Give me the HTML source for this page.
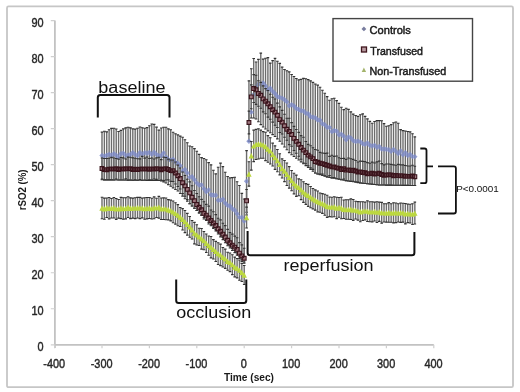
<!DOCTYPE html>
<html><head><meta charset="utf-8"><style>
html,body{margin:0;padding:0;background:#fff;}
svg{display:block;filter:blur(0.35px);}
text{filter:opacity(1);}
</style></head><body>
<svg width="520" height="392" viewBox="0 0 520 392">
<rect width="520" height="392" fill="#fff"/>
<rect x="7" y="6.4" width="506" height="380.8" rx="1.5" fill="none" stroke="#c6c6c6" stroke-width="1.8"/>
<path d="M54.9 20.5V348" stroke="#c2c2c2" stroke-width="1.8" fill="none"/>
<path d="M50.8 344.80H54.9M50.8 308.77H54.9M50.8 272.74H54.9M50.8 236.71H54.9M50.8 200.68H54.9M50.8 164.65H54.9M50.8 128.62H54.9M50.8 92.59H54.9M50.8 56.56H54.9M50.8 20.53H54.9" stroke="#cfcfcf" stroke-width="1.2" fill="none"/>
<path d="M54.9 344.8H433.8" stroke="#c2c2c2" stroke-width="1.8" fill="none"/>
<path d="M54.60 344.8V348.3M102.00 344.8V348.3M149.40 344.8V348.3M196.80 344.8V348.3M244.20 344.8V348.3M291.60 344.8V348.3M339.00 344.8V348.3M386.40 344.8V348.3M433.80 344.8V348.3" stroke="#cfcfcf" stroke-width="1.2" fill="none"/>
<text x="37.55" y="350.89" font-size="12" textLength="6.07" lengthAdjust="spacingAndGlyphs" fill="#262626" font-family="Liberation Sans, sans-serif" stroke="#262626" stroke-width="0.4">0</text>
<text x="31.48" y="314.86" font-size="12" textLength="12.15" lengthAdjust="spacingAndGlyphs" fill="#262626" font-family="Liberation Sans, sans-serif" stroke="#262626" stroke-width="0.4">10</text>
<text x="31.48" y="278.83" font-size="12" textLength="12.15" lengthAdjust="spacingAndGlyphs" fill="#262626" font-family="Liberation Sans, sans-serif" stroke="#262626" stroke-width="0.4">20</text>
<text x="31.48" y="242.80" font-size="12" textLength="12.15" lengthAdjust="spacingAndGlyphs" fill="#262626" font-family="Liberation Sans, sans-serif" stroke="#262626" stroke-width="0.4">30</text>
<text x="31.48" y="206.77" font-size="12" textLength="12.15" lengthAdjust="spacingAndGlyphs" fill="#262626" font-family="Liberation Sans, sans-serif" stroke="#262626" stroke-width="0.4">40</text>
<text x="31.48" y="170.74" font-size="12" textLength="12.15" lengthAdjust="spacingAndGlyphs" fill="#262626" font-family="Liberation Sans, sans-serif" stroke="#262626" stroke-width="0.4">50</text>
<text x="31.48" y="134.71" font-size="12" textLength="12.15" lengthAdjust="spacingAndGlyphs" fill="#262626" font-family="Liberation Sans, sans-serif" stroke="#262626" stroke-width="0.4">60</text>
<text x="31.48" y="98.68" font-size="12" textLength="12.15" lengthAdjust="spacingAndGlyphs" fill="#262626" font-family="Liberation Sans, sans-serif" stroke="#262626" stroke-width="0.4">70</text>
<text x="31.48" y="62.65" font-size="12" textLength="12.15" lengthAdjust="spacingAndGlyphs" fill="#262626" font-family="Liberation Sans, sans-serif" stroke="#262626" stroke-width="0.4">80</text>
<text x="31.48" y="26.62" font-size="12" textLength="12.15" lengthAdjust="spacingAndGlyphs" fill="#262626" font-family="Liberation Sans, sans-serif" stroke="#262626" stroke-width="0.4">90</text>
<text x="43.34" y="368.00" font-size="12" textLength="21.86" lengthAdjust="spacingAndGlyphs" fill="#262626" font-family="Liberation Sans, sans-serif" stroke="#262626" stroke-width="0.4">-400</text>
<text x="90.74" y="368.00" font-size="12" textLength="21.86" lengthAdjust="spacingAndGlyphs" fill="#262626" font-family="Liberation Sans, sans-serif" stroke="#262626" stroke-width="0.4">-300</text>
<text x="138.14" y="368.00" font-size="12" textLength="21.86" lengthAdjust="spacingAndGlyphs" fill="#262626" font-family="Liberation Sans, sans-serif" stroke="#262626" stroke-width="0.4">-200</text>
<text x="185.54" y="368.00" font-size="12" textLength="21.86" lengthAdjust="spacingAndGlyphs" fill="#262626" font-family="Liberation Sans, sans-serif" stroke="#262626" stroke-width="0.4">-100</text>
<text x="240.86" y="368.00" font-size="12" textLength="6.07" lengthAdjust="spacingAndGlyphs" fill="#262626" font-family="Liberation Sans, sans-serif" stroke="#262626" stroke-width="0.4">0</text>
<text x="281.99" y="368.00" font-size="12" textLength="18.22" lengthAdjust="spacingAndGlyphs" fill="#262626" font-family="Liberation Sans, sans-serif" stroke="#262626" stroke-width="0.4">100</text>
<text x="329.53" y="368.00" font-size="12" textLength="18.22" lengthAdjust="spacingAndGlyphs" fill="#262626" font-family="Liberation Sans, sans-serif" stroke="#262626" stroke-width="0.4">200</text>
<text x="377.00" y="368.00" font-size="12" textLength="18.22" lengthAdjust="spacingAndGlyphs" fill="#262626" font-family="Liberation Sans, sans-serif" stroke="#262626" stroke-width="0.4">300</text>
<text x="424.48" y="368.00" font-size="12" textLength="18.22" lengthAdjust="spacingAndGlyphs" fill="#262626" font-family="Liberation Sans, sans-serif" stroke="#262626" stroke-width="0.4">400</text>
<text x="223.89" y="380.50" font-size="10.4" textLength="50.12" lengthAdjust="spacingAndGlyphs" fill="#1a1a1a" font-weight="bold" font-family="Liberation Sans, sans-serif">Time (sec)</text>
<text transform="translate(25.9 210.34) rotate(-90)" font-size="10.4" textLength="40.92" lengthAdjust="spacingAndGlyphs" font-weight="bold" fill="#1a1a1a" font-family="Liberation Sans, sans-serif">rSO2 (%)</text>
<path d="M102.00 132.17V179.81M104.37 131.20V179.84M106.74 131.83V179.87M109.11 129.72V179.90M111.48 128.41V179.92M113.85 128.23V179.95M116.22 129.03V179.98M118.59 131.48V180.01M120.96 130.40V180.04M123.33 128.89V180.06M125.70 127.84V180.09M128.07 127.32V180.12M130.44 127.87V180.15M132.81 128.91V180.18M135.18 129.11V180.21M137.55 128.22V180.23M139.92 127.04V180.26M142.29 127.76V180.29M144.66 128.28V180.32M147.03 127.64V180.35M149.40 125.71V180.37M151.77 123.99V180.40M154.14 124.39V180.43M156.51 127.15V180.46M158.88 130.15V180.49M161.25 128.05V180.97M163.62 127.21V181.88M165.99 127.28V183.07M168.36 128.87V184.67M170.73 129.78V186.26M173.10 132.19V187.86M175.47 133.74V189.46M177.84 134.92V191.06M180.21 136.10V193.51M182.58 137.29V196.11M184.95 139.77V198.71M187.32 142.81V201.31M189.69 146.05V203.74M192.06 146.76V206.01M194.43 148.61V208.28M196.80 151.27V210.55M199.17 154.33V212.84M201.54 157.62V215.15M203.91 158.53V219.07M206.28 159.79V220.45M208.65 162.61V223.98M211.02 164.85V225.77M213.39 170.22V228.57M215.76 173.90V230.96M218.13 167.20V234.07M220.50 163.09V236.92M222.87 166.61V239.58M225.24 172.22V242.71M227.61 176.49V245.80M229.98 177.92V247.95M232.35 177.63V250.56M234.72 177.23V252.67M237.09 181.75V255.16M239.46 185.47V258.33M241.83 193.38V261.38M244.20 199.00V263.23M246.57 150.61V215.00M248.94 80.87V141.21M251.31 68.71V118.00M253.68 58.52V118.00M256.05 61.94V119.00M258.42 59.33V121.79M260.79 53.08V124.58M263.16 59.16V126.97M265.53 58.21V128.94M267.90 57.65V130.92M270.27 63.12V132.78M272.64 60.60V134.65M275.01 58.41V136.51M277.38 61.32V138.88M279.75 63.38V141.25M282.12 67.14V144.07M284.49 69.50V146.93M286.86 70.75V149.80M289.23 71.92V152.67M291.60 74.45V154.78M293.97 76.53V156.54M296.34 78.45V158.29M298.71 79.86V160.05M301.08 79.36V161.85M303.45 78.38V163.72M305.82 78.71V165.59M308.19 79.66V167.46M310.56 80.85V169.33M312.93 82.38V171.19M315.30 83.94V173.06M317.67 85.11V173.93M320.04 87.30V174.66M322.41 90.29V175.39M324.78 93.30V176.11M327.15 96.66V176.84M329.52 100.28V177.40M331.89 98.70V177.86M334.26 98.26V178.32M336.63 100.63V178.78M339.00 103.42V179.24M341.37 107.22V179.70M343.74 109.61V180.16M346.11 108.18V180.59M348.48 109.36V181.00M350.85 111.85V181.41M353.22 114.11V181.82M355.59 115.55V182.24M357.96 116.39V182.65M360.33 114.81V183.03M362.70 113.92V183.27M365.07 116.41V183.51M367.44 118.91V183.74M369.81 121.36V183.98M372.18 123.29V184.22M374.55 121.53V184.45M376.92 120.60V184.69M379.29 120.60V184.93M381.66 120.79V185.02M384.03 123.60V185.06M386.40 126.28V185.09M388.77 125.73V185.13M391.14 124.64V185.16M393.51 122.71V185.19M395.88 121.96V185.23M398.25 123.21V185.26M400.62 129.60V185.30M402.99 130.58V185.33M405.36 131.00V185.36M407.73 131.43V185.40M410.10 131.88V185.43M412.47 133.70V185.47M414.84 136.90V185.50" stroke="#6c6c6c" stroke-width="1.4" fill="none"/><path d="M100.70 132.17h2.6M100.70 179.81h2.6M103.07 131.20h2.6M103.07 179.84h2.6M105.44 131.83h2.6M105.44 179.87h2.6M107.81 129.72h2.6M107.81 179.90h2.6M110.18 128.41h2.6M110.18 179.92h2.6M112.55 128.23h2.6M112.55 179.95h2.6M114.92 129.03h2.6M114.92 179.98h2.6M117.29 131.48h2.6M117.29 180.01h2.6M119.66 130.40h2.6M119.66 180.04h2.6M122.03 128.89h2.6M122.03 180.06h2.6M124.40 127.84h2.6M124.40 180.09h2.6M126.77 127.32h2.6M126.77 180.12h2.6M129.14 127.87h2.6M129.14 180.15h2.6M131.51 128.91h2.6M131.51 180.18h2.6M133.88 129.11h2.6M133.88 180.21h2.6M136.25 128.22h2.6M136.25 180.23h2.6M138.62 127.04h2.6M138.62 180.26h2.6M140.99 127.76h2.6M140.99 180.29h2.6M143.36 128.28h2.6M143.36 180.32h2.6M145.73 127.64h2.6M145.73 180.35h2.6M148.10 125.71h2.6M148.10 180.37h2.6M150.47 123.99h2.6M150.47 180.40h2.6M152.84 124.39h2.6M152.84 180.43h2.6M155.21 127.15h2.6M155.21 180.46h2.6M157.58 130.15h2.6M157.58 180.49h2.6M159.95 128.05h2.6M159.95 180.97h2.6M162.32 127.21h2.6M162.32 181.88h2.6M164.69 127.28h2.6M164.69 183.07h2.6M167.06 128.87h2.6M167.06 184.67h2.6M169.43 129.78h2.6M169.43 186.26h2.6M171.80 132.19h2.6M171.80 187.86h2.6M174.17 133.74h2.6M174.17 189.46h2.6M176.54 134.92h2.6M176.54 191.06h2.6M178.91 136.10h2.6M178.91 193.51h2.6M181.28 137.29h2.6M181.28 196.11h2.6M183.65 139.77h2.6M183.65 198.71h2.6M186.02 142.81h2.6M186.02 201.31h2.6M188.39 146.05h2.6M188.39 203.74h2.6M190.76 146.76h2.6M190.76 206.01h2.6M193.13 148.61h2.6M193.13 208.28h2.6M195.50 151.27h2.6M195.50 210.55h2.6M197.87 154.33h2.6M197.87 212.84h2.6M200.24 157.62h2.6M200.24 215.15h2.6M202.61 158.53h2.6M202.61 219.07h2.6M204.98 159.79h2.6M204.98 220.45h2.6M207.35 162.61h2.6M207.35 223.98h2.6M209.72 164.85h2.6M209.72 225.77h2.6M212.09 170.22h2.6M212.09 228.57h2.6M214.46 173.90h2.6M214.46 230.96h2.6M216.83 167.20h2.6M216.83 234.07h2.6M219.20 163.09h2.6M219.20 236.92h2.6M221.57 166.61h2.6M221.57 239.58h2.6M223.94 172.22h2.6M223.94 242.71h2.6M226.31 176.49h2.6M226.31 245.80h2.6M228.68 177.92h2.6M228.68 247.95h2.6M231.05 177.63h2.6M231.05 250.56h2.6M233.42 177.23h2.6M233.42 252.67h2.6M235.79 181.75h2.6M235.79 255.16h2.6M238.16 185.47h2.6M238.16 258.33h2.6M240.53 193.38h2.6M240.53 261.38h2.6M242.90 199.00h2.6M242.90 263.23h2.6M245.27 150.61h2.6M245.27 215.00h2.6M247.64 80.87h2.6M247.64 141.21h2.6M250.01 68.71h2.6M250.01 118.00h2.6M252.38 58.52h2.6M252.38 118.00h2.6M254.75 61.94h2.6M254.75 119.00h2.6M257.12 59.33h2.6M257.12 121.79h2.6M259.49 53.08h2.6M259.49 124.58h2.6M261.86 59.16h2.6M261.86 126.97h2.6M264.23 58.21h2.6M264.23 128.94h2.6M266.60 57.65h2.6M266.60 130.92h2.6M268.97 63.12h2.6M268.97 132.78h2.6M271.34 60.60h2.6M271.34 134.65h2.6M273.71 58.41h2.6M273.71 136.51h2.6M276.08 61.32h2.6M276.08 138.88h2.6M278.45 63.38h2.6M278.45 141.25h2.6M280.82 67.14h2.6M280.82 144.07h2.6M283.19 69.50h2.6M283.19 146.93h2.6M285.56 70.75h2.6M285.56 149.80h2.6M287.93 71.92h2.6M287.93 152.67h2.6M290.30 74.45h2.6M290.30 154.78h2.6M292.67 76.53h2.6M292.67 156.54h2.6M295.04 78.45h2.6M295.04 158.29h2.6M297.41 79.86h2.6M297.41 160.05h2.6M299.78 79.36h2.6M299.78 161.85h2.6M302.15 78.38h2.6M302.15 163.72h2.6M304.52 78.71h2.6M304.52 165.59h2.6M306.89 79.66h2.6M306.89 167.46h2.6M309.26 80.85h2.6M309.26 169.33h2.6M311.63 82.38h2.6M311.63 171.19h2.6M314.00 83.94h2.6M314.00 173.06h2.6M316.37 85.11h2.6M316.37 173.93h2.6M318.74 87.30h2.6M318.74 174.66h2.6M321.11 90.29h2.6M321.11 175.39h2.6M323.48 93.30h2.6M323.48 176.11h2.6M325.85 96.66h2.6M325.85 176.84h2.6M328.22 100.28h2.6M328.22 177.40h2.6M330.59 98.70h2.6M330.59 177.86h2.6M332.96 98.26h2.6M332.96 178.32h2.6M335.33 100.63h2.6M335.33 178.78h2.6M337.70 103.42h2.6M337.70 179.24h2.6M340.07 107.22h2.6M340.07 179.70h2.6M342.44 109.61h2.6M342.44 180.16h2.6M344.81 108.18h2.6M344.81 180.59h2.6M347.18 109.36h2.6M347.18 181.00h2.6M349.55 111.85h2.6M349.55 181.41h2.6M351.92 114.11h2.6M351.92 181.82h2.6M354.29 115.55h2.6M354.29 182.24h2.6M356.66 116.39h2.6M356.66 182.65h2.6M359.03 114.81h2.6M359.03 183.03h2.6M361.40 113.92h2.6M361.40 183.27h2.6M363.77 116.41h2.6M363.77 183.51h2.6M366.14 118.91h2.6M366.14 183.74h2.6M368.51 121.36h2.6M368.51 183.98h2.6M370.88 123.29h2.6M370.88 184.22h2.6M373.25 121.53h2.6M373.25 184.45h2.6M375.62 120.60h2.6M375.62 184.69h2.6M377.99 120.60h2.6M377.99 184.93h2.6M380.36 120.79h2.6M380.36 185.02h2.6M382.73 123.60h2.6M382.73 185.06h2.6M385.10 126.28h2.6M385.10 185.09h2.6M387.47 125.73h2.6M387.47 185.13h2.6M389.84 124.64h2.6M389.84 185.16h2.6M392.21 122.71h2.6M392.21 185.19h2.6M394.58 121.96h2.6M394.58 185.23h2.6M396.95 123.21h2.6M396.95 185.26h2.6M399.32 129.60h2.6M399.32 185.30h2.6M401.69 130.58h2.6M401.69 185.33h2.6M404.06 131.00h2.6M404.06 185.36h2.6M406.43 131.43h2.6M406.43 185.40h2.6M408.80 131.88h2.6M408.80 185.43h2.6M411.17 133.70h2.6M411.17 185.47h2.6M413.54 136.90h2.6M413.54 185.50h2.6" stroke="#333" stroke-width="1.1" fill="none"/>
<path d="M102.00 152.76l2.7 2.7l-2.7 2.7l-2.7 -2.7zM104.37 153.43l2.7 2.7l-2.7 2.7l-2.7 -2.7zM106.74 152.57l2.7 2.7l-2.7 2.7l-2.7 -2.7zM109.11 151.82l2.7 2.7l-2.7 2.7l-2.7 -2.7zM111.48 152.50l2.7 2.7l-2.7 2.7l-2.7 -2.7zM113.85 151.04l2.7 2.7l-2.7 2.7l-2.7 -2.7zM116.22 152.51l2.7 2.7l-2.7 2.7l-2.7 -2.7zM118.59 154.52l2.7 2.7l-2.7 2.7l-2.7 -2.7zM120.96 151.01l2.7 2.7l-2.7 2.7l-2.7 -2.7zM123.33 150.59l2.7 2.7l-2.7 2.7l-2.7 -2.7zM125.70 152.64l2.7 2.7l-2.7 2.7l-2.7 -2.7zM128.07 152.44l2.7 2.7l-2.7 2.7l-2.7 -2.7zM130.44 151.73l2.7 2.7l-2.7 2.7l-2.7 -2.7zM132.81 149.88l2.7 2.7l-2.7 2.7l-2.7 -2.7zM135.18 151.74l2.7 2.7l-2.7 2.7l-2.7 -2.7zM137.55 152.96l2.7 2.7l-2.7 2.7l-2.7 -2.7zM139.92 149.89l2.7 2.7l-2.7 2.7l-2.7 -2.7zM142.29 151.58l2.7 2.7l-2.7 2.7l-2.7 -2.7zM144.66 149.96l2.7 2.7l-2.7 2.7l-2.7 -2.7zM147.03 150.53l2.7 2.7l-2.7 2.7l-2.7 -2.7zM149.40 149.86l2.7 2.7l-2.7 2.7l-2.7 -2.7zM151.77 151.68l2.7 2.7l-2.7 2.7l-2.7 -2.7zM154.14 149.52l2.7 2.7l-2.7 2.7l-2.7 -2.7zM156.51 151.80l2.7 2.7l-2.7 2.7l-2.7 -2.7zM158.88 152.92l2.7 2.7l-2.7 2.7l-2.7 -2.7zM161.25 152.90l2.7 2.7l-2.7 2.7l-2.7 -2.7zM163.62 150.22l2.7 2.7l-2.7 2.7l-2.7 -2.7zM165.99 154.35l2.7 2.7l-2.7 2.7l-2.7 -2.7zM168.36 156.72l2.7 2.7l-2.7 2.7l-2.7 -2.7zM170.73 157.65l2.7 2.7l-2.7 2.7l-2.7 -2.7zM173.10 156.48l2.7 2.7l-2.7 2.7l-2.7 -2.7zM175.47 159.72l2.7 2.7l-2.7 2.7l-2.7 -2.7zM177.84 160.69l2.7 2.7l-2.7 2.7l-2.7 -2.7zM180.21 163.02l2.7 2.7l-2.7 2.7l-2.7 -2.7zM182.58 168.16l2.7 2.7l-2.7 2.7l-2.7 -2.7zM184.95 166.86l2.7 2.7l-2.7 2.7l-2.7 -2.7zM187.32 170.32l2.7 2.7l-2.7 2.7l-2.7 -2.7zM189.69 174.45l2.7 2.7l-2.7 2.7l-2.7 -2.7zM192.06 174.09l2.7 2.7l-2.7 2.7l-2.7 -2.7zM194.43 177.10l2.7 2.7l-2.7 2.7l-2.7 -2.7zM196.80 180.41l2.7 2.7l-2.7 2.7l-2.7 -2.7zM199.17 182.38l2.7 2.7l-2.7 2.7l-2.7 -2.7zM201.54 182.19l2.7 2.7l-2.7 2.7l-2.7 -2.7zM203.91 185.97l2.7 2.7l-2.7 2.7l-2.7 -2.7zM206.28 189.15l2.7 2.7l-2.7 2.7l-2.7 -2.7zM208.65 187.16l2.7 2.7l-2.7 2.7l-2.7 -2.7zM211.02 192.04l2.7 2.7l-2.7 2.7l-2.7 -2.7zM213.39 192.59l2.7 2.7l-2.7 2.7l-2.7 -2.7zM215.76 192.54l2.7 2.7l-2.7 2.7l-2.7 -2.7zM218.13 197.63l2.7 2.7l-2.7 2.7l-2.7 -2.7zM220.50 197.58l2.7 2.7l-2.7 2.7l-2.7 -2.7zM222.87 196.48l2.7 2.7l-2.7 2.7l-2.7 -2.7zM225.24 200.31l2.7 2.7l-2.7 2.7l-2.7 -2.7zM227.61 202.71l2.7 2.7l-2.7 2.7l-2.7 -2.7zM229.98 203.30l2.7 2.7l-2.7 2.7l-2.7 -2.7zM232.35 206.09l2.7 2.7l-2.7 2.7l-2.7 -2.7zM234.72 207.53l2.7 2.7l-2.7 2.7l-2.7 -2.7zM237.09 211.06l2.7 2.7l-2.7 2.7l-2.7 -2.7zM239.46 214.64l2.7 2.7l-2.7 2.7l-2.7 -2.7zM241.83 214.70l2.7 2.7l-2.7 2.7l-2.7 -2.7zM244.20 218.39l2.7 2.7l-2.7 2.7l-2.7 -2.7zM246.57 178.62l2.7 2.7l-2.7 2.7l-2.7 -2.7zM248.94 138.51l2.7 2.7l-2.7 2.7l-2.7 -2.7zM251.31 109.43l2.7 2.7l-2.7 2.7l-2.7 -2.7zM253.68 91.83l2.7 2.7l-2.7 2.7l-2.7 -2.7zM256.05 84.05l2.7 2.7l-2.7 2.7l-2.7 -2.7zM258.42 81.39l2.7 2.7l-2.7 2.7l-2.7 -2.7zM260.79 81.74l2.7 2.7l-2.7 2.7l-2.7 -2.7zM263.16 80.19l2.7 2.7l-2.7 2.7l-2.7 -2.7zM265.53 83.30l2.7 2.7l-2.7 2.7l-2.7 -2.7zM267.90 87.19l2.7 2.7l-2.7 2.7l-2.7 -2.7zM270.27 85.51l2.7 2.7l-2.7 2.7l-2.7 -2.7zM272.64 88.63l2.7 2.7l-2.7 2.7l-2.7 -2.7zM275.01 90.84l2.7 2.7l-2.7 2.7l-2.7 -2.7zM277.38 93.83l2.7 2.7l-2.7 2.7l-2.7 -2.7zM279.75 94.86l2.7 2.7l-2.7 2.7l-2.7 -2.7zM282.12 95.41l2.7 2.7l-2.7 2.7l-2.7 -2.7zM284.49 97.03l2.7 2.7l-2.7 2.7l-2.7 -2.7zM286.86 99.17l2.7 2.7l-2.7 2.7l-2.7 -2.7zM289.23 103.02l2.7 2.7l-2.7 2.7l-2.7 -2.7zM291.60 101.95l2.7 2.7l-2.7 2.7l-2.7 -2.7zM293.97 103.37l2.7 2.7l-2.7 2.7l-2.7 -2.7zM296.34 105.88l2.7 2.7l-2.7 2.7l-2.7 -2.7zM298.71 106.78l2.7 2.7l-2.7 2.7l-2.7 -2.7zM301.08 107.91l2.7 2.7l-2.7 2.7l-2.7 -2.7zM303.45 108.27l2.7 2.7l-2.7 2.7l-2.7 -2.7zM305.82 110.56l2.7 2.7l-2.7 2.7l-2.7 -2.7zM308.19 111.12l2.7 2.7l-2.7 2.7l-2.7 -2.7zM310.56 114.06l2.7 2.7l-2.7 2.7l-2.7 -2.7zM312.93 114.56l2.7 2.7l-2.7 2.7l-2.7 -2.7zM315.30 115.08l2.7 2.7l-2.7 2.7l-2.7 -2.7zM317.67 117.29l2.7 2.7l-2.7 2.7l-2.7 -2.7zM320.04 117.60l2.7 2.7l-2.7 2.7l-2.7 -2.7zM322.41 121.02l2.7 2.7l-2.7 2.7l-2.7 -2.7zM324.78 122.12l2.7 2.7l-2.7 2.7l-2.7 -2.7zM327.15 124.56l2.7 2.7l-2.7 2.7l-2.7 -2.7zM329.52 124.86l2.7 2.7l-2.7 2.7l-2.7 -2.7zM331.89 128.74l2.7 2.7l-2.7 2.7l-2.7 -2.7zM334.26 127.81l2.7 2.7l-2.7 2.7l-2.7 -2.7zM336.63 128.60l2.7 2.7l-2.7 2.7l-2.7 -2.7zM339.00 132.03l2.7 2.7l-2.7 2.7l-2.7 -2.7zM341.37 131.52l2.7 2.7l-2.7 2.7l-2.7 -2.7zM343.74 133.54l2.7 2.7l-2.7 2.7l-2.7 -2.7zM346.11 137.15l2.7 2.7l-2.7 2.7l-2.7 -2.7zM348.48 134.20l2.7 2.7l-2.7 2.7l-2.7 -2.7zM350.85 135.26l2.7 2.7l-2.7 2.7l-2.7 -2.7zM353.22 137.73l2.7 2.7l-2.7 2.7l-2.7 -2.7zM355.59 138.81l2.7 2.7l-2.7 2.7l-2.7 -2.7zM357.96 138.40l2.7 2.7l-2.7 2.7l-2.7 -2.7zM360.33 138.97l2.7 2.7l-2.7 2.7l-2.7 -2.7zM362.70 141.10l2.7 2.7l-2.7 2.7l-2.7 -2.7zM365.07 141.54l2.7 2.7l-2.7 2.7l-2.7 -2.7zM367.44 140.29l2.7 2.7l-2.7 2.7l-2.7 -2.7zM369.81 142.54l2.7 2.7l-2.7 2.7l-2.7 -2.7zM372.18 143.37l2.7 2.7l-2.7 2.7l-2.7 -2.7zM374.55 142.66l2.7 2.7l-2.7 2.7l-2.7 -2.7zM376.92 144.61l2.7 2.7l-2.7 2.7l-2.7 -2.7zM379.29 143.86l2.7 2.7l-2.7 2.7l-2.7 -2.7zM381.66 146.42l2.7 2.7l-2.7 2.7l-2.7 -2.7zM384.03 146.32l2.7 2.7l-2.7 2.7l-2.7 -2.7zM386.40 146.60l2.7 2.7l-2.7 2.7l-2.7 -2.7zM388.77 147.05l2.7 2.7l-2.7 2.7l-2.7 -2.7zM391.14 148.49l2.7 2.7l-2.7 2.7l-2.7 -2.7zM393.51 146.72l2.7 2.7l-2.7 2.7l-2.7 -2.7zM395.88 148.68l2.7 2.7l-2.7 2.7l-2.7 -2.7zM398.25 150.80l2.7 2.7l-2.7 2.7l-2.7 -2.7zM400.62 148.32l2.7 2.7l-2.7 2.7l-2.7 -2.7zM402.99 152.08l2.7 2.7l-2.7 2.7l-2.7 -2.7zM405.36 149.90l2.7 2.7l-2.7 2.7l-2.7 -2.7zM407.73 152.85l2.7 2.7l-2.7 2.7l-2.7 -2.7zM410.10 151.74l2.7 2.7l-2.7 2.7l-2.7 -2.7zM412.47 153.91l2.7 2.7l-2.7 2.7l-2.7 -2.7zM414.84 153.94l2.7 2.7l-2.7 2.7l-2.7 -2.7z" fill="#7c8acb" stroke="none" fill-opacity="0.78"/>
<path d="M102.00 157.96V179.02M104.37 158.50V179.84M106.74 158.45V179.87M109.11 158.31V179.86M111.48 157.39V179.92M113.85 157.93V179.95M116.22 158.46V179.00M118.59 159.12V180.01M120.96 157.43V180.04M123.33 157.83V180.06M125.70 158.96V178.68M128.07 157.08V180.12M130.44 157.27V179.99M132.81 157.84V180.18M135.18 158.32V179.86M137.55 158.72V180.23M139.92 158.84V179.49M142.29 156.36V180.29M144.66 158.14V179.93M147.03 156.99V180.35M149.40 158.56V179.79M151.77 157.93V180.12M154.14 159.06V179.06M156.51 157.86V179.40M158.88 157.27V180.45M161.25 159.60V180.10M163.62 157.28V180.57M165.99 157.57V179.98M168.36 159.08V179.83M170.73 159.95V181.35M173.10 160.02V181.47M175.47 162.05V183.99M177.84 165.08V186.43M180.21 168.03V189.04M182.58 171.95V193.58M184.95 175.47V196.24M187.32 179.19V199.65M189.69 181.88V203.74M192.06 185.70V206.01M194.43 190.52V208.28M196.80 193.53V210.55M199.17 196.69V212.84M201.54 199.36V215.15M203.91 201.80V217.46M206.28 204.42V219.79M208.65 206.13V222.26M211.02 209.98V224.73M213.39 211.72V227.20M215.76 214.67V229.67M218.13 218.24V232.14M220.50 219.89V234.73M222.87 223.22V237.40M225.24 225.66V240.43M227.61 229.34V243.60M229.98 232.43V245.88M232.35 234.16V248.38M234.72 236.12V250.46M237.09 237.80V252.85M239.46 242.64V256.24M241.83 244.92V259.19M244.20 248.28V262.00M246.57 189.43V212.21M248.94 111.16V133.86M251.31 84.92V108.75M253.68 74.60V102.53M256.05 75.30V104.34M258.42 80.72V106.31M260.79 82.41V108.23M263.16 85.88V111.83M265.53 88.59V113.78M267.90 90.46V117.17M270.27 94.20V119.20M272.64 97.30V122.17M275.01 98.98V125.18M277.38 103.09V127.44M279.75 106.90V132.44M282.12 110.34V133.96M284.49 114.19V137.28M286.86 118.21V140.32M289.23 118.31V144.62M291.60 122.65V146.21M293.97 126.35V150.50M296.34 129.51V153.25M298.71 132.37V156.26M301.08 135.64V159.31M303.45 137.25V163.07M305.82 141.49V163.69M308.19 144.39V165.89M310.56 145.80V167.87M312.93 147.78V169.37M315.30 149.44V173.06M317.67 150.22V173.93M320.04 152.38V174.17M322.41 152.98V174.17M324.78 153.39V175.75M327.15 153.11V176.84M329.52 156.34V175.57M331.89 155.27V177.86M334.26 156.35V177.61M336.63 156.03V178.78M339.00 157.80V179.00M341.37 158.50V179.70M343.74 158.37V179.00M346.11 159.42V180.59M348.48 158.02V181.00M350.85 158.79V181.41M353.22 159.36V181.20M355.59 160.44V181.70M357.96 161.94V181.94M360.33 161.12V182.89M362.70 161.37V183.27M365.07 161.66V183.51M367.44 162.65V183.74M369.81 163.21V183.98M372.18 162.11V184.13M374.55 163.04V184.45M376.92 161.87V184.69M379.29 161.16V184.93M381.66 163.59V185.02M384.03 164.85V185.06M386.40 164.06V185.09M388.77 164.04V185.13M391.14 164.35V185.16M393.51 164.91V185.19M395.88 165.26V185.23M398.25 164.37V185.26M400.62 164.89V185.30M402.99 164.86V185.33M405.36 165.57V185.36M407.73 165.93V185.40M410.10 166.07V185.43M412.47 165.29V185.47M414.84 166.23V185.50" stroke="#6c6c6c" stroke-width="1.4" fill="none"/><path d="M100.70 157.96h2.6M100.70 179.02h2.6M103.07 158.50h2.6M103.07 179.84h2.6M105.44 158.45h2.6M105.44 179.87h2.6M107.81 158.31h2.6M107.81 179.86h2.6M110.18 157.39h2.6M110.18 179.92h2.6M112.55 157.93h2.6M112.55 179.95h2.6M114.92 158.46h2.6M114.92 179.00h2.6M117.29 159.12h2.6M117.29 180.01h2.6M119.66 157.43h2.6M119.66 180.04h2.6M122.03 157.83h2.6M122.03 180.06h2.6M124.40 158.96h2.6M124.40 178.68h2.6M126.77 157.08h2.6M126.77 180.12h2.6M129.14 157.27h2.6M129.14 179.99h2.6M131.51 157.84h2.6M131.51 180.18h2.6M133.88 158.32h2.6M133.88 179.86h2.6M136.25 158.72h2.6M136.25 180.23h2.6M138.62 158.84h2.6M138.62 179.49h2.6M140.99 156.36h2.6M140.99 180.29h2.6M143.36 158.14h2.6M143.36 179.93h2.6M145.73 156.99h2.6M145.73 180.35h2.6M148.10 158.56h2.6M148.10 179.79h2.6M150.47 157.93h2.6M150.47 180.12h2.6M152.84 159.06h2.6M152.84 179.06h2.6M155.21 157.86h2.6M155.21 179.40h2.6M157.58 157.27h2.6M157.58 180.45h2.6M159.95 159.60h2.6M159.95 180.10h2.6M162.32 157.28h2.6M162.32 180.57h2.6M164.69 157.57h2.6M164.69 179.98h2.6M167.06 159.08h2.6M167.06 179.83h2.6M169.43 159.95h2.6M169.43 181.35h2.6M171.80 160.02h2.6M171.80 181.47h2.6M174.17 162.05h2.6M174.17 183.99h2.6M176.54 165.08h2.6M176.54 186.43h2.6M178.91 168.03h2.6M178.91 189.04h2.6M181.28 171.95h2.6M181.28 193.58h2.6M183.65 175.47h2.6M183.65 196.24h2.6M186.02 179.19h2.6M186.02 199.65h2.6M188.39 181.88h2.6M188.39 203.74h2.6M190.76 185.70h2.6M190.76 206.01h2.6M193.13 190.52h2.6M193.13 208.28h2.6M195.50 193.53h2.6M195.50 210.55h2.6M197.87 196.69h2.6M197.87 212.84h2.6M200.24 199.36h2.6M200.24 215.15h2.6M202.61 201.80h2.6M202.61 217.46h2.6M204.98 204.42h2.6M204.98 219.79h2.6M207.35 206.13h2.6M207.35 222.26h2.6M209.72 209.98h2.6M209.72 224.73h2.6M212.09 211.72h2.6M212.09 227.20h2.6M214.46 214.67h2.6M214.46 229.67h2.6M216.83 218.24h2.6M216.83 232.14h2.6M219.20 219.89h2.6M219.20 234.73h2.6M221.57 223.22h2.6M221.57 237.40h2.6M223.94 225.66h2.6M223.94 240.43h2.6M226.31 229.34h2.6M226.31 243.60h2.6M228.68 232.43h2.6M228.68 245.88h2.6M231.05 234.16h2.6M231.05 248.38h2.6M233.42 236.12h2.6M233.42 250.46h2.6M235.79 237.80h2.6M235.79 252.85h2.6M238.16 242.64h2.6M238.16 256.24h2.6M240.53 244.92h2.6M240.53 259.19h2.6M242.90 248.28h2.6M242.90 262.00h2.6M245.27 189.43h2.6M245.27 212.21h2.6M247.64 111.16h2.6M247.64 133.86h2.6M250.01 84.92h2.6M250.01 108.75h2.6M252.38 74.60h2.6M252.38 102.53h2.6M254.75 75.30h2.6M254.75 104.34h2.6M257.12 80.72h2.6M257.12 106.31h2.6M259.49 82.41h2.6M259.49 108.23h2.6M261.86 85.88h2.6M261.86 111.83h2.6M264.23 88.59h2.6M264.23 113.78h2.6M266.60 90.46h2.6M266.60 117.17h2.6M268.97 94.20h2.6M268.97 119.20h2.6M271.34 97.30h2.6M271.34 122.17h2.6M273.71 98.98h2.6M273.71 125.18h2.6M276.08 103.09h2.6M276.08 127.44h2.6M278.45 106.90h2.6M278.45 132.44h2.6M280.82 110.34h2.6M280.82 133.96h2.6M283.19 114.19h2.6M283.19 137.28h2.6M285.56 118.21h2.6M285.56 140.32h2.6M287.93 118.31h2.6M287.93 144.62h2.6M290.30 122.65h2.6M290.30 146.21h2.6M292.67 126.35h2.6M292.67 150.50h2.6M295.04 129.51h2.6M295.04 153.25h2.6M297.41 132.37h2.6M297.41 156.26h2.6M299.78 135.64h2.6M299.78 159.31h2.6M302.15 137.25h2.6M302.15 163.07h2.6M304.52 141.49h2.6M304.52 163.69h2.6M306.89 144.39h2.6M306.89 165.89h2.6M309.26 145.80h2.6M309.26 167.87h2.6M311.63 147.78h2.6M311.63 169.37h2.6M314.00 149.44h2.6M314.00 173.06h2.6M316.37 150.22h2.6M316.37 173.93h2.6M318.74 152.38h2.6M318.74 174.17h2.6M321.11 152.98h2.6M321.11 174.17h2.6M323.48 153.39h2.6M323.48 175.75h2.6M325.85 153.11h2.6M325.85 176.84h2.6M328.22 156.34h2.6M328.22 175.57h2.6M330.59 155.27h2.6M330.59 177.86h2.6M332.96 156.35h2.6M332.96 177.61h2.6M335.33 156.03h2.6M335.33 178.78h2.6M337.70 157.80h2.6M337.70 179.00h2.6M340.07 158.50h2.6M340.07 179.70h2.6M342.44 158.37h2.6M342.44 179.00h2.6M344.81 159.42h2.6M344.81 180.59h2.6M347.18 158.02h2.6M347.18 181.00h2.6M349.55 158.79h2.6M349.55 181.41h2.6M351.92 159.36h2.6M351.92 181.20h2.6M354.29 160.44h2.6M354.29 181.70h2.6M356.66 161.94h2.6M356.66 181.94h2.6M359.03 161.12h2.6M359.03 182.89h2.6M361.40 161.37h2.6M361.40 183.27h2.6M363.77 161.66h2.6M363.77 183.51h2.6M366.14 162.65h2.6M366.14 183.74h2.6M368.51 163.21h2.6M368.51 183.98h2.6M370.88 162.11h2.6M370.88 184.13h2.6M373.25 163.04h2.6M373.25 184.45h2.6M375.62 161.87h2.6M375.62 184.69h2.6M377.99 161.16h2.6M377.99 184.93h2.6M380.36 163.59h2.6M380.36 185.02h2.6M382.73 164.85h2.6M382.73 185.06h2.6M385.10 164.06h2.6M385.10 185.09h2.6M387.47 164.04h2.6M387.47 185.13h2.6M389.84 164.35h2.6M389.84 185.16h2.6M392.21 164.91h2.6M392.21 185.19h2.6M394.58 165.26h2.6M394.58 185.23h2.6M396.95 164.37h2.6M396.95 185.26h2.6M399.32 164.89h2.6M399.32 185.30h2.6M401.69 164.86h2.6M401.69 185.33h2.6M404.06 165.57h2.6M404.06 185.36h2.6M406.43 165.93h2.6M406.43 185.40h2.6M408.80 166.07h2.6M408.80 185.43h2.6M411.17 165.29h2.6M411.17 185.47h2.6M413.54 166.23h2.6M413.54 185.50h2.6" stroke="#333" stroke-width="1.1" fill="none"/>
<path d="M100.10 166.59h3.8v3.8h-3.8zM102.47 167.70h3.8v3.8h-3.8zM104.84 167.79h3.8v3.8h-3.8zM107.21 167.19h3.8v3.8h-3.8zM109.58 167.11h3.8v3.8h-3.8zM111.95 167.16h3.8v3.8h-3.8zM114.32 166.83h3.8v3.8h-3.8zM116.69 167.67h3.8v3.8h-3.8zM119.06 167.01h3.8v3.8h-3.8zM121.43 167.21h3.8v3.8h-3.8zM123.80 166.92h3.8v3.8h-3.8zM126.17 166.99h3.8v3.8h-3.8zM128.54 166.73h3.8v3.8h-3.8zM130.91 167.75h3.8v3.8h-3.8zM133.28 167.19h3.8v3.8h-3.8zM135.65 167.64h3.8v3.8h-3.8zM138.02 167.26h3.8v3.8h-3.8zM140.39 166.98h3.8v3.8h-3.8zM142.76 167.13h3.8v3.8h-3.8zM145.13 167.04h3.8v3.8h-3.8zM147.50 167.28h3.8v3.8h-3.8zM149.87 167.13h3.8v3.8h-3.8zM152.24 167.16h3.8v3.8h-3.8zM154.61 166.73h3.8v3.8h-3.8zM156.98 166.96h3.8v3.8h-3.8zM159.35 167.95h3.8v3.8h-3.8zM161.72 167.02h3.8v3.8h-3.8zM164.09 166.88h3.8v3.8h-3.8zM166.46 167.55h3.8v3.8h-3.8zM168.83 168.75h3.8v3.8h-3.8zM171.20 168.84h3.8v3.8h-3.8zM173.57 171.12h3.8v3.8h-3.8zM175.94 173.86h3.8v3.8h-3.8zM178.31 176.64h3.8v3.8h-3.8zM180.68 180.87h3.8v3.8h-3.8zM183.05 183.95h3.8v3.8h-3.8zM185.42 187.52h3.8v3.8h-3.8zM187.79 190.95h3.8v3.8h-3.8zM190.16 195.33h3.8v3.8h-3.8zM192.53 198.70h3.8v3.8h-3.8zM194.90 202.63h3.8v3.8h-3.8zM197.27 205.40h3.8v3.8h-3.8zM199.64 207.87h3.8v3.8h-3.8zM202.01 211.41h3.8v3.8h-3.8zM204.38 213.21h3.8v3.8h-3.8zM206.75 216.13h3.8v3.8h-3.8zM209.12 218.61h3.8v3.8h-3.8zM211.49 221.05h3.8v3.8h-3.8zM213.86 223.63h3.8v3.8h-3.8zM216.23 226.89h3.8v3.8h-3.8zM218.60 229.34h3.8v3.8h-3.8zM220.97 232.23h3.8v3.8h-3.8zM223.34 235.13h3.8v3.8h-3.8zM225.71 238.41h3.8v3.8h-3.8zM228.08 240.88h3.8v3.8h-3.8zM230.45 243.19h3.8v3.8h-3.8zM232.82 245.25h3.8v3.8h-3.8zM235.19 247.48h3.8v3.8h-3.8zM237.56 251.20h3.8v3.8h-3.8zM239.93 254.00h3.8v3.8h-3.8zM242.30 256.34h3.8v3.8h-3.8zM244.67 198.92h3.8v3.8h-3.8zM247.04 120.61h3.8v3.8h-3.8zM249.41 94.93h3.8v3.8h-3.8zM251.78 86.67h3.8v3.8h-3.8zM254.15 87.92h3.8v3.8h-3.8zM256.52 91.61h3.8v3.8h-3.8zM258.89 93.42h3.8v3.8h-3.8zM261.26 96.96h3.8v3.8h-3.8zM263.63 99.29h3.8v3.8h-3.8zM266.00 101.92h3.8v3.8h-3.8zM268.37 104.80h3.8v3.8h-3.8zM270.74 107.83h3.8v3.8h-3.8zM273.11 110.18h3.8v3.8h-3.8zM275.48 113.37h3.8v3.8h-3.8zM277.85 117.77h3.8v3.8h-3.8zM280.22 120.25h3.8v3.8h-3.8zM282.59 123.84h3.8v3.8h-3.8zM284.96 127.37h3.8v3.8h-3.8zM287.33 129.56h3.8v3.8h-3.8zM289.70 132.53h3.8v3.8h-3.8zM292.07 136.52h3.8v3.8h-3.8zM294.44 139.48h3.8v3.8h-3.8zM296.81 142.41h3.8v3.8h-3.8zM299.18 145.58h3.8v3.8h-3.8zM301.55 148.26h3.8v3.8h-3.8zM303.92 150.69h3.8v3.8h-3.8zM306.29 153.24h3.8v3.8h-3.8zM308.66 154.93h3.8v3.8h-3.8zM311.03 156.68h3.8v3.8h-3.8zM313.40 159.55h3.8v3.8h-3.8zM315.77 160.33h3.8v3.8h-3.8zM318.14 161.37h3.8v3.8h-3.8zM320.51 161.68h3.8v3.8h-3.8zM322.88 162.67h3.8v3.8h-3.8zM325.25 163.39h3.8v3.8h-3.8zM327.62 164.06h3.8v3.8h-3.8zM329.99 164.98h3.8v3.8h-3.8zM332.36 165.08h3.8v3.8h-3.8zM334.73 166.02h3.8v3.8h-3.8zM337.10 166.50h3.8v3.8h-3.8zM339.47 167.66h3.8v3.8h-3.8zM341.84 166.78h3.8v3.8h-3.8zM344.21 168.14h3.8v3.8h-3.8zM346.58 168.14h3.8v3.8h-3.8zM348.95 168.56h3.8v3.8h-3.8zM351.32 168.38h3.8v3.8h-3.8zM353.69 169.17h3.8v3.8h-3.8zM356.06 170.04h3.8v3.8h-3.8zM358.43 170.10h3.8v3.8h-3.8zM360.80 170.56h3.8v3.8h-3.8zM363.17 170.81h3.8v3.8h-3.8zM365.54 171.78h3.8v3.8h-3.8zM367.91 171.70h3.8v3.8h-3.8zM370.28 171.22h3.8v3.8h-3.8zM372.65 172.15h3.8v3.8h-3.8zM375.02 171.77h3.8v3.8h-3.8zM377.39 171.38h3.8v3.8h-3.8zM379.76 172.60h3.8v3.8h-3.8zM382.13 173.47h3.8v3.8h-3.8zM384.50 173.09h3.8v3.8h-3.8zM386.87 172.73h3.8v3.8h-3.8zM389.24 172.95h3.8v3.8h-3.8zM391.61 173.90h3.8v3.8h-3.8zM393.98 173.64h3.8v3.8h-3.8zM396.35 173.73h3.8v3.8h-3.8zM398.72 173.81h3.8v3.8h-3.8zM401.09 173.98h3.8v3.8h-3.8zM403.46 174.41h3.8v3.8h-3.8zM405.83 174.44h3.8v3.8h-3.8zM408.20 174.43h3.8v3.8h-3.8zM410.57 174.06h3.8v3.8h-3.8zM412.94 174.80h3.8v3.8h-3.8z" fill="#a07880" stroke="#3a141c" stroke-width="1.1"/>
<path d="M102.00 197.28V218.76M104.37 198.12V219.32M106.74 197.98V217.55M109.11 197.56V218.84M111.48 198.45V218.04M113.85 197.47V217.93M116.22 198.49V219.33M118.59 199.44V218.15M120.96 197.36V218.67M123.33 197.80V219.19M125.70 197.82V218.83M128.07 196.77V217.46M130.44 197.87V218.63M132.81 198.10V218.13M135.18 197.72V218.60M137.55 197.41V217.95M139.92 197.34V218.65M142.29 198.14V217.90M144.66 197.81V219.29M147.03 197.51V218.89M149.40 197.54V218.57M151.77 198.32V218.99M154.14 196.88V218.74M156.51 198.26V217.46M158.88 196.40V218.16M161.25 197.99V219.48M163.62 197.92V219.46M165.99 198.05V219.68M168.36 199.59V219.91M170.73 200.15V220.88M173.10 201.02V222.75M175.47 202.71V224.13M177.84 204.62V225.71M180.21 207.51V226.47M182.58 208.62V229.98M184.95 210.57V232.61M187.32 213.33V235.11M189.69 216.49V237.28M192.06 220.45V239.03M194.43 222.41V243.92M196.80 224.79V244.93M199.17 228.22V245.43M201.54 228.48V249.11M203.91 231.47V249.79M206.28 233.94V252.43M208.65 236.02V255.25M211.02 236.47V257.92M213.39 239.62V259.03M215.76 241.34V261.45M218.13 242.68V264.50M220.50 244.10V265.67M222.87 247.48V266.95M225.24 249.13V268.37M227.61 252.25V270.20M229.98 253.07V271.63M232.35 254.75V274.59M234.72 257.11V276.84M237.09 258.57V277.90M239.46 259.95V280.28M241.83 263.36V281.50M244.20 265.53V284.47M246.57 207.16V228.04M248.94 161.80V186.17M251.31 141.50V170.12M253.68 130.16V161.63M256.05 129.39V159.45M258.42 128.70V158.99M260.79 130.10V158.19M263.16 131.60V158.18M265.53 132.31V160.63M267.90 135.63V162.27M270.27 137.82V163.97M272.64 143.15V165.98M275.01 145.87V169.38M277.38 149.52V171.82M279.75 153.82V174.88M282.12 158.91V177.99M284.49 160.43V181.58M286.86 163.05V185.44M289.23 166.58V188.12M291.60 170.56V190.68M293.97 173.27V193.85M296.34 175.09V196.36M298.71 178.92V195.74M301.08 179.82V199.66M303.45 181.78V202.41M305.82 183.59V204.37M308.19 184.36V206.34M310.56 186.44V207.73M312.93 188.55V208.83M315.30 189.89V210.15M317.67 191.04V211.86M320.04 192.97V212.18M322.41 193.58V213.38M324.78 194.28V215.20M327.15 195.23V217.39M329.52 197.03V216.63M331.89 197.25V216.97M334.26 196.76V216.76M336.63 197.27V218.63M339.00 197.53V217.22M341.37 197.20V218.68M343.74 199.94V218.47M346.11 199.77V219.23M348.48 199.80V219.22M350.85 198.91V219.50M353.22 199.53V220.42M355.59 201.19V218.99M357.96 201.60V220.10M360.33 201.74V221.73M362.70 201.77V220.54M365.07 202.14V219.86M367.44 200.69V221.46M369.81 201.71V221.81M372.18 201.78V221.87M374.55 202.09V221.00M376.92 201.81V222.50M379.29 202.17V221.33M381.66 202.39V223.14M384.03 203.69V222.01M386.40 203.78V222.15M388.77 202.63V222.26M391.14 203.69V222.21M393.51 202.72V222.88M395.88 202.98V222.62M398.25 203.82V222.03M400.62 202.95V222.34M402.99 203.26V222.13M405.36 203.51V223.88M407.73 204.16V222.65M410.10 204.32V223.03M412.47 203.76V224.43M414.84 202.16V224.05" stroke="#6c6c6c" stroke-width="1.4" fill="none"/><path d="M100.70 197.28h2.6M100.70 218.76h2.6M103.07 198.12h2.6M103.07 219.32h2.6M105.44 197.98h2.6M105.44 217.55h2.6M107.81 197.56h2.6M107.81 218.84h2.6M110.18 198.45h2.6M110.18 218.04h2.6M112.55 197.47h2.6M112.55 217.93h2.6M114.92 198.49h2.6M114.92 219.33h2.6M117.29 199.44h2.6M117.29 218.15h2.6M119.66 197.36h2.6M119.66 218.67h2.6M122.03 197.80h2.6M122.03 219.19h2.6M124.40 197.82h2.6M124.40 218.83h2.6M126.77 196.77h2.6M126.77 217.46h2.6M129.14 197.87h2.6M129.14 218.63h2.6M131.51 198.10h2.6M131.51 218.13h2.6M133.88 197.72h2.6M133.88 218.60h2.6M136.25 197.41h2.6M136.25 217.95h2.6M138.62 197.34h2.6M138.62 218.65h2.6M140.99 198.14h2.6M140.99 217.90h2.6M143.36 197.81h2.6M143.36 219.29h2.6M145.73 197.51h2.6M145.73 218.89h2.6M148.10 197.54h2.6M148.10 218.57h2.6M150.47 198.32h2.6M150.47 218.99h2.6M152.84 196.88h2.6M152.84 218.74h2.6M155.21 198.26h2.6M155.21 217.46h2.6M157.58 196.40h2.6M157.58 218.16h2.6M159.95 197.99h2.6M159.95 219.48h2.6M162.32 197.92h2.6M162.32 219.46h2.6M164.69 198.05h2.6M164.69 219.68h2.6M167.06 199.59h2.6M167.06 219.91h2.6M169.43 200.15h2.6M169.43 220.88h2.6M171.80 201.02h2.6M171.80 222.75h2.6M174.17 202.71h2.6M174.17 224.13h2.6M176.54 204.62h2.6M176.54 225.71h2.6M178.91 207.51h2.6M178.91 226.47h2.6M181.28 208.62h2.6M181.28 229.98h2.6M183.65 210.57h2.6M183.65 232.61h2.6M186.02 213.33h2.6M186.02 235.11h2.6M188.39 216.49h2.6M188.39 237.28h2.6M190.76 220.45h2.6M190.76 239.03h2.6M193.13 222.41h2.6M193.13 243.92h2.6M195.50 224.79h2.6M195.50 244.93h2.6M197.87 228.22h2.6M197.87 245.43h2.6M200.24 228.48h2.6M200.24 249.11h2.6M202.61 231.47h2.6M202.61 249.79h2.6M204.98 233.94h2.6M204.98 252.43h2.6M207.35 236.02h2.6M207.35 255.25h2.6M209.72 236.47h2.6M209.72 257.92h2.6M212.09 239.62h2.6M212.09 259.03h2.6M214.46 241.34h2.6M214.46 261.45h2.6M216.83 242.68h2.6M216.83 264.50h2.6M219.20 244.10h2.6M219.20 265.67h2.6M221.57 247.48h2.6M221.57 266.95h2.6M223.94 249.13h2.6M223.94 268.37h2.6M226.31 252.25h2.6M226.31 270.20h2.6M228.68 253.07h2.6M228.68 271.63h2.6M231.05 254.75h2.6M231.05 274.59h2.6M233.42 257.11h2.6M233.42 276.84h2.6M235.79 258.57h2.6M235.79 277.90h2.6M238.16 259.95h2.6M238.16 280.28h2.6M240.53 263.36h2.6M240.53 281.50h2.6M242.90 265.53h2.6M242.90 284.47h2.6M245.27 207.16h2.6M245.27 228.04h2.6M247.64 161.80h2.6M247.64 186.17h2.6M250.01 141.50h2.6M250.01 170.12h2.6M252.38 130.16h2.6M252.38 161.63h2.6M254.75 129.39h2.6M254.75 159.45h2.6M257.12 128.70h2.6M257.12 158.99h2.6M259.49 130.10h2.6M259.49 158.19h2.6M261.86 131.60h2.6M261.86 158.18h2.6M264.23 132.31h2.6M264.23 160.63h2.6M266.60 135.63h2.6M266.60 162.27h2.6M268.97 137.82h2.6M268.97 163.97h2.6M271.34 143.15h2.6M271.34 165.98h2.6M273.71 145.87h2.6M273.71 169.38h2.6M276.08 149.52h2.6M276.08 171.82h2.6M278.45 153.82h2.6M278.45 174.88h2.6M280.82 158.91h2.6M280.82 177.99h2.6M283.19 160.43h2.6M283.19 181.58h2.6M285.56 163.05h2.6M285.56 185.44h2.6M287.93 166.58h2.6M287.93 188.12h2.6M290.30 170.56h2.6M290.30 190.68h2.6M292.67 173.27h2.6M292.67 193.85h2.6M295.04 175.09h2.6M295.04 196.36h2.6M297.41 178.92h2.6M297.41 195.74h2.6M299.78 179.82h2.6M299.78 199.66h2.6M302.15 181.78h2.6M302.15 202.41h2.6M304.52 183.59h2.6M304.52 204.37h2.6M306.89 184.36h2.6M306.89 206.34h2.6M309.26 186.44h2.6M309.26 207.73h2.6M311.63 188.55h2.6M311.63 208.83h2.6M314.00 189.89h2.6M314.00 210.15h2.6M316.37 191.04h2.6M316.37 211.86h2.6M318.74 192.97h2.6M318.74 212.18h2.6M321.11 193.58h2.6M321.11 213.38h2.6M323.48 194.28h2.6M323.48 215.20h2.6M325.85 195.23h2.6M325.85 217.39h2.6M328.22 197.03h2.6M328.22 216.63h2.6M330.59 197.25h2.6M330.59 216.97h2.6M332.96 196.76h2.6M332.96 216.76h2.6M335.33 197.27h2.6M335.33 218.63h2.6M337.70 197.53h2.6M337.70 217.22h2.6M340.07 197.20h2.6M340.07 218.68h2.6M342.44 199.94h2.6M342.44 218.47h2.6M344.81 199.77h2.6M344.81 219.23h2.6M347.18 199.80h2.6M347.18 219.22h2.6M349.55 198.91h2.6M349.55 219.50h2.6M351.92 199.53h2.6M351.92 220.42h2.6M354.29 201.19h2.6M354.29 218.99h2.6M356.66 201.60h2.6M356.66 220.10h2.6M359.03 201.74h2.6M359.03 221.73h2.6M361.40 201.77h2.6M361.40 220.54h2.6M363.77 202.14h2.6M363.77 219.86h2.6M366.14 200.69h2.6M366.14 221.46h2.6M368.51 201.71h2.6M368.51 221.81h2.6M370.88 201.78h2.6M370.88 221.87h2.6M373.25 202.09h2.6M373.25 221.00h2.6M375.62 201.81h2.6M375.62 222.50h2.6M377.99 202.17h2.6M377.99 221.33h2.6M380.36 202.39h2.6M380.36 223.14h2.6M382.73 203.69h2.6M382.73 222.01h2.6M385.10 203.78h2.6M385.10 222.15h2.6M387.47 202.63h2.6M387.47 222.26h2.6M389.84 203.69h2.6M389.84 222.21h2.6M392.21 202.72h2.6M392.21 222.88h2.6M394.58 202.98h2.6M394.58 222.62h2.6M396.95 203.82h2.6M396.95 222.03h2.6M399.32 202.95h2.6M399.32 222.34h2.6M401.69 203.26h2.6M401.69 222.13h2.6M404.06 203.51h2.6M404.06 223.88h2.6M406.43 204.16h2.6M406.43 222.65h2.6M408.80 204.32h2.6M408.80 223.03h2.6M411.17 203.76h2.6M411.17 224.43h2.6M413.54 202.16h2.6M413.54 224.05h2.6" stroke="#333" stroke-width="1.1" fill="none"/>
<path d="M102.00 205.32l2.7 5.40h-5.4zM104.37 206.02l2.7 5.40h-5.4zM106.74 205.06l2.7 5.40h-5.4zM109.11 205.50l2.7 5.40h-5.4zM111.48 205.54l2.7 5.40h-5.4zM113.85 205.00l2.7 5.40h-5.4zM116.22 206.21l2.7 5.40h-5.4zM118.59 206.09l2.7 5.40h-5.4zM120.96 205.31l2.7 5.40h-5.4zM123.33 205.80l2.7 5.40h-5.4zM125.70 205.63l2.7 5.40h-5.4zM128.07 204.42l2.7 5.40h-5.4zM130.44 205.55l2.7 5.40h-5.4zM132.81 205.41l2.7 5.40h-5.4zM135.18 205.46l2.7 5.40h-5.4zM137.55 204.98l2.7 5.40h-5.4zM139.92 205.29l2.7 5.40h-5.4zM142.29 205.32l2.7 5.40h-5.4zM144.66 205.85l2.7 5.40h-5.4zM147.03 205.50l2.7 5.40h-5.4zM149.40 205.35l2.7 5.40h-5.4zM151.77 205.95l2.7 5.40h-5.4zM154.14 205.11l2.7 5.40h-5.4zM156.51 205.16l2.7 5.40h-5.4zM158.88 204.58l2.7 5.40h-5.4zM161.25 206.03l2.7 5.40h-5.4zM163.62 205.99l2.7 5.40h-5.4zM165.99 206.17l2.7 5.40h-5.4zM168.36 207.05l2.7 5.40h-5.4zM170.73 207.81l2.7 5.40h-5.4zM173.10 209.19l2.7 5.40h-5.4zM175.47 210.72l2.7 5.40h-5.4zM177.84 212.47l2.7 5.40h-5.4zM180.21 214.29l2.7 5.40h-5.4zM182.58 216.60l2.7 5.40h-5.4zM184.95 218.89l2.7 5.40h-5.4zM187.32 221.52l2.7 5.40h-5.4zM189.69 224.19l2.7 5.40h-5.4zM192.06 227.04l2.7 5.40h-5.4zM194.43 230.46l2.7 5.40h-5.4zM196.80 232.16l2.7 5.40h-5.4zM199.17 234.12l2.7 5.40h-5.4zM201.54 236.10l2.7 5.40h-5.4zM203.91 237.93l2.7 5.40h-5.4zM206.28 240.48l2.7 5.40h-5.4zM208.65 242.94l2.7 5.40h-5.4zM211.02 244.49l2.7 5.40h-5.4zM213.39 246.62l2.7 5.40h-5.4zM215.76 248.69l2.7 5.40h-5.4zM218.13 250.89l2.7 5.40h-5.4zM220.50 252.19l2.7 5.40h-5.4zM222.87 254.51l2.7 5.40h-5.4zM225.24 256.05l2.7 5.40h-5.4zM227.61 258.53l2.7 5.40h-5.4zM229.98 259.65l2.7 5.40h-5.4zM232.35 261.97l2.7 5.40h-5.4zM234.72 264.27l2.7 5.40h-5.4zM237.09 265.53l2.7 5.40h-5.4zM239.46 267.42l2.7 5.40h-5.4zM241.83 269.73l2.7 5.40h-5.4zM244.20 272.30l2.7 5.40h-5.4zM246.57 214.90l2.7 5.40h-5.4zM248.94 171.28l2.7 5.40h-5.4zM251.31 153.11l2.7 5.40h-5.4zM253.68 143.20l2.7 5.40h-5.4zM256.05 141.72l2.7 5.40h-5.4zM258.42 141.14l2.7 5.40h-5.4zM260.79 141.45l2.7 5.40h-5.4zM263.16 142.19l2.7 5.40h-5.4zM265.53 143.77l2.7 5.40h-5.4zM267.90 146.25l2.7 5.40h-5.4zM270.27 148.19l2.7 5.40h-5.4zM272.64 151.87l2.7 5.40h-5.4zM275.01 154.92l2.7 5.40h-5.4zM277.38 157.97l2.7 5.40h-5.4zM279.75 161.65l2.7 5.40h-5.4zM282.12 165.75l2.7 5.40h-5.4zM284.49 168.30l2.7 5.40h-5.4zM286.86 171.55l2.7 5.40h-5.4zM289.23 174.65l2.7 5.40h-5.4zM291.60 177.92l2.7 5.40h-5.4zM293.97 180.86l2.7 5.40h-5.4zM296.34 183.02l2.7 5.40h-5.4zM298.71 184.63l2.7 5.40h-5.4zM301.08 187.04l2.7 5.40h-5.4zM303.45 189.40l2.7 5.40h-5.4zM305.82 191.28l2.7 5.40h-5.4zM308.19 192.65l2.7 5.40h-5.4zM310.56 194.39l2.7 5.40h-5.4zM312.93 195.99l2.7 5.40h-5.4zM315.30 197.32l2.7 5.40h-5.4zM317.67 198.75l2.7 5.40h-5.4zM320.04 199.87l2.7 5.40h-5.4zM322.41 200.78l2.7 5.40h-5.4zM324.78 202.04l2.7 5.40h-5.4zM327.15 203.61l2.7 5.40h-5.4zM329.52 204.13l2.7 5.40h-5.4zM331.89 204.41l2.7 5.40h-5.4zM334.26 204.06l2.7 5.40h-5.4zM336.63 205.25l2.7 5.40h-5.4zM339.00 204.67l2.7 5.40h-5.4zM341.37 205.24l2.7 5.40h-5.4zM343.74 206.50l2.7 5.40h-5.4zM346.11 206.80l2.7 5.40h-5.4zM348.48 206.81l2.7 5.40h-5.4zM350.85 206.50l2.7 5.40h-5.4zM353.22 207.27l2.7 5.40h-5.4zM355.59 207.39l2.7 5.40h-5.4zM357.96 208.15l2.7 5.40h-5.4zM360.33 209.04l2.7 5.40h-5.4zM362.70 208.46l2.7 5.40h-5.4zM365.07 208.30l2.7 5.40h-5.4zM367.44 208.38l2.7 5.40h-5.4zM369.81 209.06l2.7 5.40h-5.4zM372.18 209.13l2.7 5.40h-5.4zM374.55 208.84l2.7 5.40h-5.4zM376.92 209.46l2.7 5.40h-5.4zM379.29 209.05l2.7 5.40h-5.4zM381.66 210.07l2.7 5.40h-5.4zM384.03 210.15l2.7 5.40h-5.4zM386.40 210.27l2.7 5.40h-5.4zM388.77 209.75l2.7 5.40h-5.4zM391.14 210.25l2.7 5.40h-5.4zM393.51 210.10l2.7 5.40h-5.4zM395.88 210.10l2.7 5.40h-5.4zM398.25 210.23l2.7 5.40h-5.4zM400.62 209.95l2.7 5.40h-5.4zM402.99 210.00l2.7 5.40h-5.4zM405.36 211.00l2.7 5.40h-5.4zM407.73 210.71l2.7 5.40h-5.4zM410.10 210.98l2.7 5.40h-5.4zM412.47 211.40l2.7 5.40h-5.4zM414.84 210.41l2.7 5.40h-5.4z" fill="#bcd840" stroke="none"/>
<rect x="333" y="18.6" width="139.5" height="62.6" fill="#fff" stroke="#444" stroke-width="1.4"/>
<path d="M363.9 26.5l2.4 2.4l-2.4 2.4l-2.4 -2.4z" fill="#787c9e"/>
<rect x="361.5" y="47" width="5" height="5" fill="#b89aa0" stroke="#40161e" stroke-width="1.3"/>
<path d="M363.9 67.6l2.2 4.4h-4.4z" fill="#a4b46c"/>
<text x="369.64" y="34.00" font-size="11" textLength="41.16" lengthAdjust="spacingAndGlyphs" fill="#1a1a1a" font-family="Liberation Sans, sans-serif" stroke="#1a1a1a" stroke-width="0.45">Controls</text><text x="370.36" y="54.70" font-size="11" textLength="52.61" lengthAdjust="spacingAndGlyphs" fill="#1a1a1a" font-family="Liberation Sans, sans-serif" stroke="#1a1a1a" stroke-width="0.45">Transfused</text><text x="369.52" y="75.30" font-size="11" textLength="76.67" lengthAdjust="spacingAndGlyphs" fill="#1a1a1a" font-family="Liberation Sans, sans-serif" stroke="#1a1a1a" stroke-width="0.45">Non-Transfused</text>
<path d="M97.8 117.6V97.5q0-2.5 2.5-2.5H167q2.5 0 2.5 2.5V117.6" fill="none" stroke="#111" stroke-width="2"/>
<text x="98.34" y="93.00" font-size="16" textLength="67.16" lengthAdjust="spacingAndGlyphs" fill="#111" font-family="Liberation Sans, sans-serif">baseline</text>
<path d="M176.2 279.5V300.4q0 2.5 2.5 2.5H243.8q2.5 0 2.5-2.5V279.5" fill="none" stroke="#111" stroke-width="2"/>
<text x="176.35" y="318.40" font-size="16" textLength="74.92" lengthAdjust="spacingAndGlyphs" fill="#111" font-family="Liberation Sans, sans-serif">occlusion</text>
<path d="M247.6 231V252.8q0 2.5 2.5 2.5H411.9q2.5 0 2.5-2.5V232" fill="none" stroke="#111" stroke-width="2"/>
<text x="283.40" y="271.00" font-size="16" textLength="90.06" lengthAdjust="spacingAndGlyphs" fill="#111" font-family="Liberation Sans, sans-serif">reperfusion</text>
<path d="M420.3 148.5H424.5q2 0 2 2V181.2q0 2-2 2H420.3M426.5 166.4H433" fill="none" stroke="#111" stroke-width="1.8"/>
<path d="M438 166.4H453.9q2 0 2 2V211.5q0 2-2 2H438" fill="none" stroke="#111" stroke-width="1.8"/>
<text x="456.19" y="191.70" font-size="9.6" textLength="42.70" lengthAdjust="spacingAndGlyphs" fill="#111" font-family="Liberation Sans, sans-serif">P&lt;0.0001</text>
</svg>
</body></html>
